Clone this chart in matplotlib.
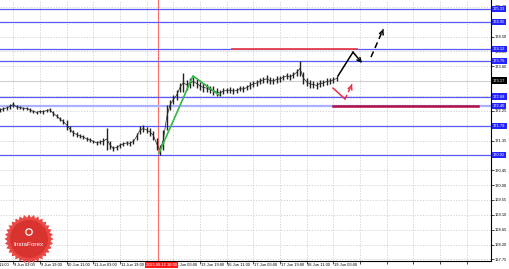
import numpy as np
import matplotlib.pyplot as plt
from matplotlib.patches import Polygon, Circle

plt.rcParams['font.family'] = ['Liberation Sans', 'DejaVu Sans']

# H1 chart, one hi/lo pair every 2 bars
bar_hi = [172.34, 172.37, 172.40, 172.46, 172.52, 172.43, 172.40, 172.37, 172.37, 172.34,
          172.28, 172.25, 172.28, 172.28, 172.31, 172.34, 172.25, 172.16, 172.06, 172.00,
          171.97, 171.79, 171.67, 171.61, 171.55, 171.52, 171.46, 171.43, 171.37, 171.34,
          171.37, 171.43, 171.73, 171.34, 171.19, 171.22, 171.28, 171.31, 171.34, 171.34,
          171.40, 171.58, 171.79, 171.82, 171.76, 171.73, 171.64, 171.43, 171.22, 171.67,
          172.43, 172.58, 172.73, 172.88, 173.10, 173.40, 173.19, 173.25, 173.28, 173.22,
          173.13, 173.10, 173.06, 173.00, 173.00, 172.94, 172.88, 172.94, 172.94, 172.97,
          172.94, 172.94, 173.00, 173.00, 173.03, 173.13, 173.16, 173.19, 173.25, 173.28,
          173.34, 173.28, 173.25, 173.31, 173.31, 173.34, 173.40, 173.37, 173.43, 173.52,
          173.76, 173.43, 173.25, 173.19, 173.16, 173.13, 173.19, 173.19, 173.25, 173.25,
          173.28, 173.31]
bar_lo = [172.22, 172.25, 172.28, 172.31, 172.37, 172.31, 172.31, 172.28, 172.28, 172.22,
          172.19, 172.16, 172.19, 172.16, 172.22, 172.22, 172.10, 172.03, 171.94, 171.85,
          171.67, 171.61, 171.49, 171.46, 171.43, 171.40, 171.34, 171.31, 171.28, 171.22,
          171.25, 171.22, 171.07, 171.10, 171.03, 171.07, 171.13, 171.19, 171.22, 171.19,
          171.25, 171.37, 171.55, 171.61, 171.58, 171.49, 171.37, 171.07, 170.91, 171.07,
          171.67, 172.28, 172.46, 172.58, 172.82, 172.82, 172.88, 172.94, 173.00, 172.94,
          172.88, 172.82, 172.82, 172.79, 172.73, 172.70, 172.70, 172.76, 172.79, 172.79,
          172.76, 172.79, 172.85, 172.82, 172.88, 172.91, 172.97, 173.00, 173.06, 173.10,
          173.10, 173.06, 173.06, 173.10, 173.13, 173.19, 173.22, 173.19, 173.25, 173.31,
          173.31, 173.06, 173.00, 172.94, 172.94, 172.91, 172.97, 173.00, 173.03, 173.06,
          173.10, 173.16]
bar_step = 2

# support / resistance levels
blue_levels = [175.33, 174.95, 174.12, 173.76, 172.68, 171.79, 170.92]
light_level = 172.40
last_price = 173.17

# short red levels: (start bar, end bar, price)
red_top = (139, 214, 174.12)
red_low = (200, 287, 172.40)

# markup lines, (bar, price) points
green_x = [95.4, 115.8, 131.4]
green_y = [170.97, 173.31, 172.73]
black_x = [202.8, 211.8, 217.2]
black_y = [173.31, 174.03, 173.70]
dash_x = [222.6, 230.0]
dash_y = [173.88, 174.73]
red_x = [199.8, 207.0, 211.2]
red_y = [172.94, 172.61, 173.06]

vline_bar = 95
vline_text = '2025.06.12 18:00'

y_ticks = [167.75, 168.20, 168.65, 169.10, 169.55, 170.00, 170.45, 170.90, 171.35,
           171.80, 172.25, 172.70, 173.15, 173.60, 174.05, 174.50, 174.95, 175.40]
x_labels = ['6 Jun 11:00', '9 Jun 03:00', '9 Jun 19:00', '10 Jun 11:00', '11 Jun 03:00',
            '11 Jun 19:00', '12 Jun 11:00', '13 Jun 03:00', '13 Jun 19:00', '16 Jun 11:00',
            '17 Jun 03:00', '17 Jun 19:00', '18 Jun 11:00', '19 Jun 03:00']

fs = 2.9

fig = plt.figure(figsize=(5.1, 2.69), dpi=100)
ax = fig.add_axes([0, 8/269, 491/510, 261/269])

ax.set_xlim(0, 294.6)
ax.set_ylim(167.70, 175.61)

# grid
grid_x = np.arange(8, 295, 16)
for gx in grid_x:
    ax.axvline(gx, color='#c8c8c8', lw=0.5, ls=(0, (2, 2)), zorder=0)
for gy in y_ticks:
    ax.axhline(gy, color='#c8c8c8', lw=0.5, ls=(0, (2, 2)), zorder=0)

# levels
for lv in blue_levels:
    ax.axhline(lv, color='#5a5aff', lw=0.9, zorder=2)
ax.axhline(light_level, color='#aab2ff', lw=1.6, zorder=2)
ax.axhline(last_price, color='#d0d0d0', lw=0.8, zorder=1)
ax.plot(red_top[:2], [red_top[2]] * 2, color='#e8404a', lw=1.3, zorder=3)
ax.plot(red_low[:2], [red_low[2]] * 2, color='#b0104a', lw=1.8, zorder=3)

ax.axvline(vline_bar, color='#ff6a6a', lw=0.8, zorder=1)

# price bars
bx = np.arange(len(bar_hi)) * bar_step
hi = np.array(bar_hi)
lo = np.array(bar_lo)
ax.vlines(bx, lo, hi, color='#222222', lw=1.0, zorder=4)
ax.plot(bx, (hi + lo) / 2, color='#222222', lw=0.5, zorder=4)

# markup
ax.plot(green_x, green_y, color='#33b845', lw=1.2, zorder=5)
ax.plot(black_x[:2], black_y[:2], color='black', lw=1.1, zorder=5)
ax.annotate('', xy=(black_x[2], black_y[2]), xytext=(black_x[1], black_y[1]),
            arrowprops=dict(arrowstyle='->', color='black', lw=1.1,
                            shrinkA=0, shrinkB=0, mutation_scale=7))
ax.plot(dash_x, dash_y, color='black', lw=1.1, ls=(0, (4, 2.5)), zorder=5)
ax.annotate('', xy=(dash_x[1], dash_y[1]), xytext=(dash_x[1] - 0.6, dash_y[1] - 0.08),
            arrowprops=dict(arrowstyle='->', color='black', lw=1.1,
                            shrinkA=0, shrinkB=0, mutation_scale=7))
ax.plot(red_x[:2], red_y[:2], color='#f03040', lw=1.1, zorder=5)
ax.plot(red_x[1:], red_y[1:], color='#f03040', lw=1.1, ls=(0, (3, 2)), zorder=5)
ax.annotate('', xy=(red_x[2], red_y[2]), xytext=(red_x[2] - 0.6, red_y[2] - 0.08),
            arrowprops=dict(arrowstyle='->', color='#f03040', lw=1.1,
                            shrinkA=0, shrinkB=0, mutation_scale=7))

# axes look
for s in ['top', 'left']:
    ax.spines[s].set_visible(False)
ax.spines['right'].set_linewidth(0.8)
ax.spines['bottom'].set_linewidth(0.8)
ax.yaxis.tick_right()
ax.set_yticks(y_ticks)
ax.set_yticklabels(['%.2f' % t for t in y_ticks], fontsize=fs)
ax.tick_params(axis='y', length=2, width=0.5, pad=1)
ax.set_xticks(grid_x)
ax.set_xticklabels([])
ax.tick_params(axis='x', length=2, width=0.5)

xt = ax.get_xaxis_transform()
for i, lab in enumerate(x_labels):
    ax.text(-8 + 16 * i + 0.5, -0.016, lab, transform=xt, fontsize=fs,
            ha='left', va='center', clip_on=False)
ax.text(vline_bar + 2, -0.016, vline_text, transform=xt, fontsize=fs, color='white',
        ha='center', va='center', clip_on=False, zorder=6,
        bbox=dict(boxstyle='square,pad=0.3', fc='#ff1a1a', ec='none'))

yt = ax.get_yaxis_transform()
for lv in blue_levels + [light_level]:
    ax.text(1.004, lv, '%.2f' % lv, transform=yt, fontsize=fs, color='white',
            ha='left', va='center', clip_on=False, zorder=6,
            bbox=dict(boxstyle='square,pad=0.3', fc='#2323ff', ec='none'))
ax.text(1.004, last_price, '%.2f' % last_price, transform=yt, fontsize=fs, color='white',
        ha='left', va='center', clip_on=False, zorder=6,
        bbox=dict(boxstyle='square,pad=0.3', fc='black', ec='none'))

# InstaForex badge, drawn in pixel space
ov = fig.add_axes([0, 0, 1, 1], zorder=10)
ov.set_xlim(0, 510)
ov.set_ylim(269, 0)
ov.axis('off')
n = 64
ang = np.linspace(0, 2 * np.pi, n, endpoint=False)
rad = np.where(np.arange(n) % 2 == 0, 24.5, 21.5)
pts = np.column_stack([29 + rad * np.cos(ang), 239 + rad * np.sin(ang)])
ov.add_patch(Polygon(pts, closed=True, fc='#e8403c', ec='none', alpha=0.95))
ov.add_patch(Circle((29, 239), 19, fc='#d93330', ec='none'))
ov.add_patch(Circle((29, 232), 3.2, fc='none', ec='white', lw=0.9))
ov.text(29, 245, 'InstaForex', fontsize=4.6, color='white', ha='center', va='center')

fig.savefig('out.png', dpi=100)
